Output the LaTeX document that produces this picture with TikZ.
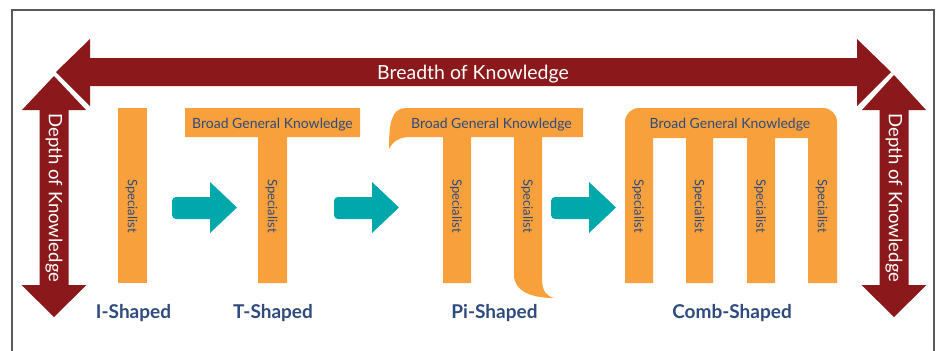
\documentclass[tikz,border=0pt]{standalone}
\usepackage{fontspec}
\setmainfont{Lato}
\usetikzlibrary{positioning}
\definecolor{knowred}{RGB}{139,25,28}
\definecolor{skillorange}{RGB}{247,160,60}
\definecolor{stepteal}{RGB}{0,168,172}
\definecolor{labelblue}{RGB}{46,74,126}
\definecolor{framegray}{RGB}{90,90,90}

\begin{document}
\begin{tikzpicture}[x=1pt, y=-1pt,
  specialist/.style={rotate=-90, text=labelblue, font=\fontsize{13}{13}\selectfont},
  broad/.style={anchor=base, text=labelblue, font=\fontsize{14}{14}\selectfont},
  shapename/.style={anchor=base, text=labelblue, font=\fontsize{19}{19}\selectfont\bfseries},
  axislabel/.style={text=white, font=\fontsize{19.5}{19.5}\selectfont}]
  \useasboundingbox (0,0) rectangle (938,351);
  \draw[framegray, line width=1.2] (12,351) -- (12,10) -- (934,10) -- (934,351);

  % depth and breadth arrows
  \foreach \c/\t in {54/76, 894/75} {
    \fill[knowred] (\c-14.5,110) -- (\c-32,110) -- (\c,\t) -- (\c+32,110) -- (\c+14.5,110)
      -- (\c+14.5,285) -- (\c+32.5,285) -- (\c,317) -- (\c-32.5,285) -- (\c-14.5,285) -- cycle;
  }
  \fill[knowred, preaction={draw=white, line width=5}] (56,72) -- (90,39) -- (90,58) -- (857,58)
    -- (857,39) -- (891,72) -- (857,106) -- (857,86) -- (90,86) -- (90,106) -- cycle;
  \node[axislabel, anchor=base] (breadth) at (473,79) {Breadth of Knowledge};
  \node[axislabel, rotate=-90, font=\fontsize{18.5}{18.5}\selectfont] (depthL) at (54,198) {Depth of Knowledge};
  \node[axislabel, rotate=-90, font=\fontsize{18.5}{18.5}\selectfont] (depthR) at (894,198) {Depth of Knowledge};

  % the four profiles
  \fill[skillorange] (118,108) rectangle (147,283);
  \fill[skillorange] (185,108) rectangle (360,137) (258,137) rectangle (287,283);
  \fill[skillorange] (405,108) -- (583,108) -- (583,137) -- (542,137) -- (542,278)
    .. controls (542,291) and (546,296) .. (554,298) .. controls (531,298) and (514,291) .. (514,275)
    -- (514,137) -- (471,137) -- (471,283) -- (443,283) -- (443,137) -- (410,137)
    .. controls (400,137) and (393,141) .. (389,149) .. controls (389,124) and (391,109) .. (405,108) -- cycle;
  \fill[skillorange] (625,283) -- (625,150) [rounded corners=14] -- (625,108) -- (837,108)
    -- (837,150) [sharp corners] -- (837,283) -- (808,283) -- (808,138) -- (775,138) -- (775,283)
    -- (747,283) -- (747,138) -- (713,138) -- (713,283) -- (686,283) -- (686,138) -- (653,138)
    -- (653,283) -- cycle;

  \node[broad] (tbroad) at (272.5,128) {Broad General Knowledge};
  \node[broad] (pibroad) at (491.5,128) {Broad General Knowledge};
  \node[broad] (combbroad) at (730,128) {Broad General Knowledge};
  \foreach \x/\n in {132.5/i, 272.5/t, 457/pa, 528/pb, 639/ca, 699.5/cb, 761/cc, 822.5/cd}
    \node[specialist] (spec-\n) at (\x-1,206) {Specialist};

  % steps between profiles
  \foreach \x in {172, 334, 551} {
    \fill[stepteal] (\x+20,219) [rounded corners=4] -- (\x,219) -- (\x,197) -- (\x+20,197) [sharp corners]
      -- (\x+38,197) -- (\x+38,182) -- (\x+65,207.5) -- (\x+38,233) -- (\x+38,219) -- cycle;
  }

  \node[shapename] (ishaped) at (133.5,318) {I-Shaped};
  \node[shapename] (tshaped) at (273,318) {T-Shaped};
  \node[shapename] (pishaped) at (494.5,318) {Pi-Shaped};
  \node[shapename] (combshaped) at (732,318) {Comb-Shaped};
\end{tikzpicture}
\end{document}
